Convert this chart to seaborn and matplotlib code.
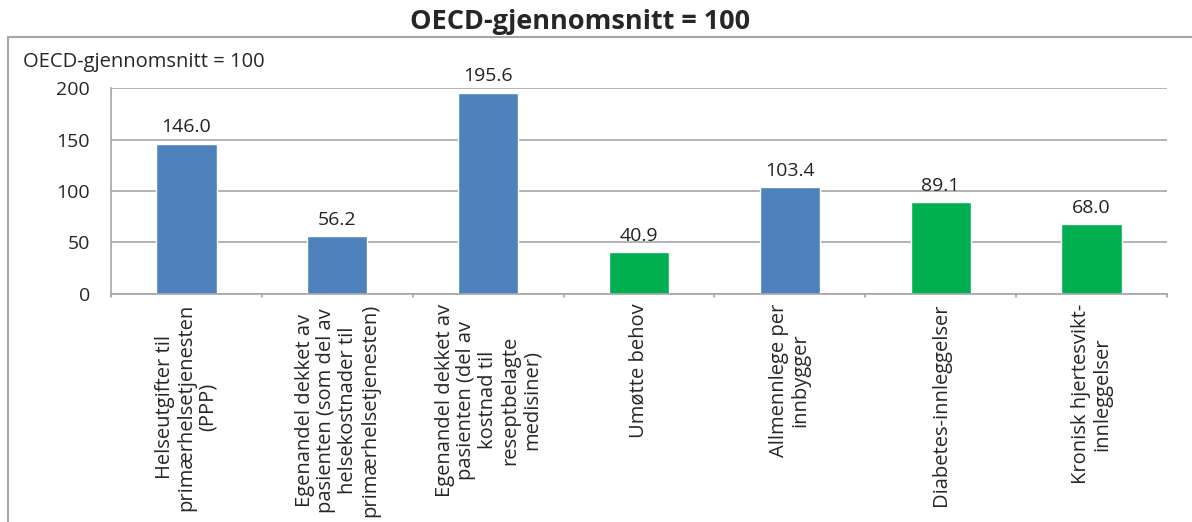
import pandas as pd
import matplotlib.pyplot as plt
import seaborn as sns
from matplotlib.patches import Rectangle

# %% data
categories = ['Helseutgifter til\nprimærhelsetjenesten\n(PPP)',
              'Egenandel dekket av\npasienten (som del av\nhelsekostnader til\nprimærhelsetjenesten)',
              'Egenandel dekket av\npasienten (del av\nkostnad til\nreseptbelagte\nmedisiner)',
              'Umøtte behov',
              'Allmennlege per\ninnbygger',
              'Diabetes-innleggelser',
              'Kronisk hjertesvikt-\ninnleggelser']
values = [146.0, 56.2, 195.6, 40.9, 103.4, 89.1, 68.0]
bar_colors = ['#4F81BD', '#4F81BD', '#4F81BD', '#00B050', '#4F81BD', '#00B050', '#00B050']

df = pd.DataFrame({'kategori': categories, 'verdi': values})

# %% plot
sns.set_style('white')
plt.rcParams['font.family'] = ['Open Sans', 'DejaVu Sans']

fig = plt.figure(figsize=(11.92, 5.22), dpi=100)
ax = fig.add_axes([0.0931, 0.4368, 0.979 - 0.0931, 0.8314 - 0.4368])

# grey frame around chart area
fig.patches.append(Rectangle((8 / 1192, -0.02), 1.05, 1 - 37 / 522 + 0.02,
                             transform=fig.transFigure, fill=False,
                             edgecolor='#A6A6A6', linewidth=1.5))

g = sns.barplot(data=df, x='kategori', y='verdi', hue='kategori',
                palette=bar_colors, legend=False, width=0.4, ax=ax,
                saturation=1)

for p, v in zip(ax.patches, values):
    ax.text(p.get_x() + p.get_width() / 2, v + 7, f'{v:.1f}',
            ha='center', va='bottom', fontsize=14, color='#222222')

ax.set_ylim(0, 200)
ax.set_xlim(-0.5, len(categories) - 0.5)
ax.set_yticks([0, 50, 100, 150, 200])
ax.yaxis.grid(True, color='#A6A6A6', linewidth=1.2)
ax.set_axisbelow(True)
ax.tick_params(axis='y', labelsize=14, length=7, color='#A6A6A6', pad=8)

# category labels at centers, tick marks at boundaries
ax.set_xticks(range(len(categories)))
ax.set_xticklabels(categories, rotation=90, fontsize=14.5, ha='center',
                   va='top', multialignment='center', linespacing=1.12)
ax.tick_params(axis='x', length=0, pad=7)
for b in [i - 0.5 for i in range(len(categories) + 1)]:
    ax.plot([b, b], [0, -3], color='#A6A6A6', linewidth=1.2, clip_on=False)

for s in ['top', 'right']:
    ax.spines[s].set_visible(False)
ax.spines['left'].set_color('#A6A6A6')
ax.spines['bottom'].set_color('#A6A6A6')
ax.spines['left'].set_linewidth(1.2)
ax.spines['bottom'].set_linewidth(1.2)
g.set(xlabel=None, ylabel=None)

fig.text(23 / 1192, 1 - 62 / 522, 'OECD-gjennomsnitt = 100', fontsize=14.5,
         ha='left', va='center')
fig.text(580 / 1192, 1 - 22 / 522, 'OECD-gjennomsnitt = 100', fontsize=19.5,
         fontweight='bold', ha='center', va='center')

plt.savefig('out.png', dpi=100)
